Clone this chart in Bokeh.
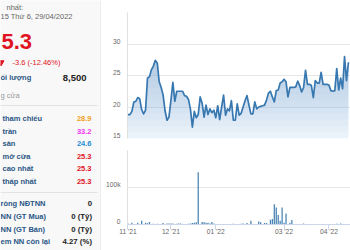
import numpy as np
import pandas as pd
from bokeh.plotting import figure
from bokeh.layouts import row, column
from bokeh.models import Range1d, FixedTicker, Span
from bokeh.core.properties import value
from bokeh.embed import file_html
from bokeh.resources import INLINE

# ---------------- data ----------------
start_date = "2021-11-01"
market_holidays = ["2022-01-03", "2022-01-31", "2022-02-01", "2022-02-02",
                   "2022-02-03", "2022-02-04", "2022-04-11"]

close_price = [
    18.8, 18.8, 19.3, 20.8, 20.9, 21.5, 21.3, 19.6, 18.9, 19.5,
    24.6, 24.8, 25.9, 26.5, 27.4, 27.0, 24.0, 23.1, 21.9, 19.4,
    17.9, 18.4, 21.0, 23.9, 20.9, 22.5, 22.5, 22.5, 22.5, 21.8,
    21.7, 21.2, 19.7, 16.8, 19.3, 18.3, 18.8, 21.6, 20.6, 18.4,
    20.3, 18.8, 19.7, 19.1, 19.5, 18.3, 20.2, 18.0, 20.0, 21.9,
    18.7, 19.7, 19.4, 21.0, 17.9, 17.9, 20.5, 18.7, 19.0, 20.0,
    21.0, 21.8, 20.3, 18.9, 18.9, 20.8, 19.7, 20.0, 20.1, 20.2,
    20.3, 21.1, 22.2, 22.5, 21.6, 20.8, 22.6, 22.7, 23.8, 24.0,
    24.4, 24.0, 21.6, 23.1, 23.1, 23.1, 23.2, 24.1, 23.4, 22.4,
    23.1, 25.8, 23.6, 23.6, 23.4, 21.5, 24.2, 23.8, 23.8, 25.5,
    23.6, 23.6, 23.6, 23.5, 22.6, 22.5, 22.6, 26.1, 22.7, 24.6,
    22.9, 28.0, 24.2, 27.1,
]

volume = [
    3000, 0, 5000, 0, 0, 4500, 0, 10000, 0, 4500,
    3500, 7000, 0, 2000, 0, 2000, 0, 0, 4000, 0,
    3000, 3000, 3000, 3000, 0, 2000, 3000, 3000, 0, 0,
    0, 2000, 3000, 4000, 4500, 6000, 141000, 0, 7000, 6000,
    5000, 4500, 3000, 7000, 3000, 0, 0, 0, 1000, 0,
    0, 0, 0, 0, 2000, 0, 0, 0, 2000, 3000,
    0, 4000, 0, 10000, 0, 0, 0, 8000, 6000, 0,
    4000, 4000, 0, 13000, 15000, 55000, 46000, 26000, 10000, 46000,
    5000, 30000, 0, 5000, 12000, 0, 0, 0, 0, 0,
    3000, 0, 0, 0, 0, 0, 0, 0, 0, 0,
    0, 0, 0, 0, 0, 0, 0, 2000, 0, 3000,
    0, 0, 0, 0,
]

month_ticks = ["2021-11", "2021-12", "2022-01", "2022-03", "2022-04"]
month_labels = ["11 '21", "12 '21", "01 '22", "03 '22", "04 '22"]

price_ticks = [15, 20, 25, 30, 35]
price_tick_labels = ["15", "20", "25", "30", ""]
volume_ticks = [0, 100000, 200000]
volume_tick_labels = ["0", "100k", ""]

header_lines = ["nhất:", "15 Thứ 6, 29/04/2022"]
last_price = "5.3"
change_text = "-3.6 (-12.46%)"
volume_label = "ối lượng"
volume_value = "8,500"
status_text = "g cửa"
quote_labels = ["tham chiếu", "trần", "sàn", "mở cửa", "cao nhất", "thấp nhất"]
quote_values = ["28.9", "33.2", "24.6", "25.3", "25.3", "25.3"]
foreign_labels = ["ròng NĐTNN", "NN (GT Mua)", "NN (GT Bán)", "em NN còn lại"]
foreign_values = ["0", "0 (Tỷ)", "0 (Tỷ)", "4.27 (%)"]

# ---------------- derived ----------------
dates = pd.bdate_range(start_date, periods=len(close_price), freq="C",
                       holidays=market_holidays)
idx = np.arange(len(close_price))
price = np.array(close_price, dtype=float)
months = dates.strftime("%Y-%m")
tick_pos = [int(np.argmax(months == m)) for m in month_ticks]

# ---------------- styles ----------------
FONT = "Liberation Sans"
RED = "#e0141e"
LABEL_BLUE = "#2a5785"
GRID = "#e6e6e6"
AXIS_TXT = "#666666"
quote_colors = ["#f5a021", "#ee33ee", "#1f8dd6", RED, RED, RED]
LABEL_LIFT_PX = 3  # axis labels sit slightly above their grid line

# ---------------- left info panel ----------------
PANEL_BG = "#f8f8f8"
lp = figure(width=101, height=250, x_range=Range1d(0, 101), y_range=Range1d(250, 0),
            x_axis_location=None, y_axis_location=None, toolbar_location=None,
            output_backend="svg", min_border=0, outline_line_color=None,
            background_fill_color=PANEL_BG, border_fill_color=PANEL_BG)
lp.grid.visible = False
lp.add_layout(Span(location=100.5, dimension="height", line_color="#e3e3e3", line_width=1))
lp.segment(x0=[0, 0], y0=[105, 192], x1=[97, 97], y1=[105, 192], line_color="#e3e3e3", line_width=1)

def txt(x, y, t, color, size, bold=False, align="left"):
    lp.text(x=x, y=y, text=t, text_color=color, text_font=value(FONT),
            text_font_size=value(size), text_font_style="bold" if bold else "normal",
            text_align=align, text_baseline="middle")

txt([6, 0], [6.5, 15.5], header_lines, "#666666", "7.5px")
txt([1], [41], [last_price], RED, "22px", bold=True)
lp.scatter(x=[0.5], y=[62], marker="inverted_triangle", size=6, color=RED)
txt([12], [62], [change_text], RED, "7.5px")
txt([0], [77], [volume_label], LABEL_BLUE, "7.5px", bold=True)
txt([86], [77], [volume_value], "#222222", "9.5px", bold=True, align="right")
txt([0], [95], [status_text], "#999999", "7.5px")

q_y = [118, 130.7, 143.2, 156, 168.3, 180.8]
txt([2] * len(quote_labels), q_y, quote_labels, LABEL_BLUE, "7.5px", bold=True)
for yy, v, c in zip(q_y, quote_values, quote_colors):
    txt([91], [yy], [v], c, "7.5px", bold=True, align="right")

f_y = [203, 216, 228.7, 241]
txt([0] * len(foreign_labels), f_y, foreign_labels, LABEL_BLUE, "7.5px", bold=True)
txt([91.5] * len(foreign_values), f_y, foreign_values, "#222222", "7.8px", bold=True, align="right")

# ---------------- charts ----------------
xr = Range1d(-0.25, 114.05)

PRICE_FRAME_H = 126
VOL_FRAME_H = 74
pf = figure(width=249, height=144, x_range=xr, y_range=Range1d(15, 35),
            x_axis_location=None, toolbar_location=None, output_backend="svg",
            min_border_left=26, min_border_right=0, min_border_top=12, min_border_bottom=6,
            outline_line_color=None, background_fill_color="white", border_fill_color="white")

# gradient-like area fill
FILL = "#5b9bd5"
pf.varea(x=idx, y1=15, y2=price, fill_color=FILL, fill_alpha=0.12)
for lvl in np.arange(16, 29, 1.0):
    pf.varea(x=idx, y1=lvl, y2=np.maximum(price, lvl), fill_color=FILL, fill_alpha=0.04)
pf.line(idx, price, line_color="#3878b0", line_width=1.7, line_join="round")

vf = figure(width=249, height=106, x_range=xr, y_range=Range1d(0, 200000),
            toolbar_location=None, output_backend="svg",
            min_border_left=26, min_border_right=0, min_border_top=6, min_border_bottom=26,
            outline_line_color=None, background_fill_color="white", border_fill_color="white")
vf.vbar(x=idx, top=volume, width=0.65, fill_color="#4a84b4", line_color=None)

for f, ticks, labels, frame_h in ((pf, price_ticks, price_tick_labels, PRICE_FRAME_H),
                                  (vf, volume_ticks, volume_tick_labels, VOL_FRAME_H)):
    span = f.y_range.end - f.y_range.start
    lift = LABEL_LIFT_PX * span / frame_h
    label_pos = [t + lift for t in ticks]
    f.xgrid.visible = False
    f.ygrid.ticker = FixedTicker(ticks=ticks)
    f.ygrid.grid_line_color = GRID
    f.yaxis.ticker = FixedTicker(ticks=label_pos)
    f.yaxis.major_label_overrides = {p: l for p, l in zip(label_pos, labels)}
    f.yaxis.axis_line_color = "#e0e0e0"
    f.yaxis.major_tick_line_color = None
    f.yaxis.minor_tick_line_color = None
    f.yaxis.major_label_text_font = FONT
    f.yaxis.major_label_text_font_size = "6.7px"
    f.yaxis.major_label_text_color = AXIS_TXT
    f.yaxis.major_label_standoff = 1

vf.xaxis.ticker = FixedTicker(ticks=tick_pos)
vf.xaxis.major_label_overrides = {t: l for t, l in zip(tick_pos, month_labels)}
vf.xaxis.axis_line_color = "#ccd6eb"
vf.xaxis.major_tick_line_color = "#ccd6eb"
vf.xaxis.major_tick_out = 5
vf.xaxis.major_tick_in = 0
vf.xaxis.minor_tick_line_color = None
vf.xaxis.major_label_standoff = -2
vf.xaxis.major_label_text_font = FONT
vf.xaxis.major_label_text_font_size = "6.7px"
vf.xaxis.major_label_text_color = AXIS_TXT

layout = row(lp, column(pf, vf, spacing=0), spacing=0)
open("out.html", "w").write(file_html(layout, INLINE))
